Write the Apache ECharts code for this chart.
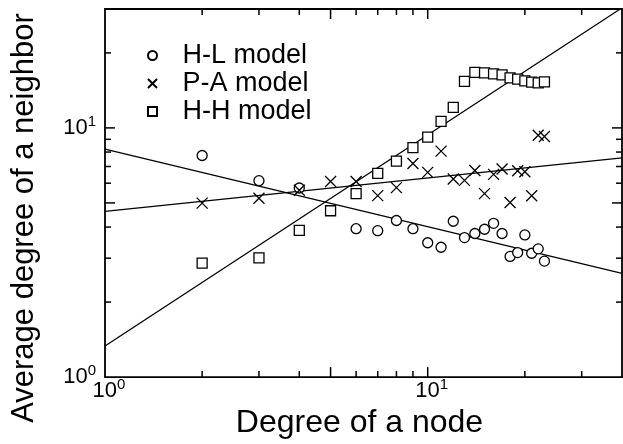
<!DOCTYPE html>
<html>
<head>
<meta charset="utf-8">
<script src="https://cdn.jsdelivr.net/npm/echarts@6/dist/echarts.min.js"></script>
<style>
html,body{margin:0;padding:0;background:#fff;}
#chart{width:623px;height:444px;}
</style>
</head>
<body>
<div id="chart"></div>
<script>
// ---- data ----
const seriesNames = ['H-L model', 'P-A model', 'H-H model'];

const hlX = [2, 3, 4, 6, 7, 8, 9, 10, 11, 12, 13, 14, 15, 16, 17, 18, 19, 20, 21, 22, 23];
const hlY = [7.75, 6.14, 5.74, 3.94, 3.87, 4.25, 3.94, 3.46, 3.32, 4.22, 3.63, 3.77, 3.92, 4.14, 3.77, 3.05, 3.16, 3.72, 3.14, 3.27, 2.92];

const paX = [2, 3, 4, 5, 6, 7, 8, 9, 10, 11, 12, 13, 14, 15, 16, 17, 18, 19, 20, 21, 22, 23];
const paY = [4.99, 5.22, 5.62, 6.09, 6.09, 5.35, 5.76, 7.20, 6.63, 8.07, 6.24, 6.16, 6.75, 5.45, 6.51, 6.84, 5.02, 6.73, 6.67, 5.34, 9.35, 9.23];

const hhX = [2, 3, 4, 5, 6, 7, 8, 9, 10, 11, 12, 13, 14, 15, 16, 17, 18, 19, 20, 21, 22, 23];
const hhY = [2.865, 3.01, 3.88, 4.65, 5.45, 6.57, 7.36, 8.34, 9.18, 10.63, 12.09, 15.36, 16.69, 16.63, 16.48, 16.32, 15.88, 15.69, 15.45, 15.26, 15.17, 15.31];

// fitted straight lines (end points)
const hlFitX = [1, 40];
const hlFitY = [8.22, 2.61];
const paFitX = [1, 40];
const paFitY = [4.62, 7.58];
const hhFitX = [1, 39.5];
const hhFitY = [1.332, 30];

// axes
const xRange = [1, 40];
const yRange = [1, 30];
const xTickValues = [2, 3, 4, 5, 6, 7, 8, 9, 10, 20, 30];
const yTickValues = [2, 3, 4, 5, 6, 7, 8, 9, 10, 20];
const longTickValues = [5, 10];
const xTitle = 'Degree of a node';
const yTitle = 'Average degree of a neighbor';

// ---- chart ----
const FONT = 'Liberation Sans, Arial, Helvetica, sans-serif';
const zip = (xs, ys) => xs.map((x, i) => [x, ys[i]]);

function powLabel(value) {
  const l = Math.log10(value);
  const e = Math.round(l);
  if (Math.abs(l - e) > 1e-6) return '';
  return '{b|10}{s|' + e + '}';
}
const labelRich = {
  b: { fontSize: 22, fontFamily: FONT, color: '#000', lineHeight: 22, padding: [6, 0, 0, 0] },
  s: { fontSize: 15, fontFamily: FONT, color: '#000', lineHeight: 15, verticalAlign: 'top' }
};

const markStyle = { color: '#fff', borderColor: '#000', borderWidth: 1.3, opacity: 1 };
const crossPath = 'path://M0,0L10,10M10,0L0,10';
const squarePath = 'path://M0,0L10,0L10,10L0,10Z';

const chart = echarts.init(document.getElementById('chart'), null, { renderer: 'canvas' });
chart.setOption({
  backgroundColor: '#fff',
  animation: false,
  textStyle: { fontFamily: FONT },
  grid: {
    left: 105, right: 1, top: 9, bottom: 65.5,
    show: true, borderColor: '#000', borderWidth: 1.8
  },
  legend: {
    data: seriesNames,
    orient: 'vertical',
    left: 147, top: 42, padding: 0,
    itemWidth: 50, itemHeight: 9, itemGap: 1,
    symbolKeepAspect: true,
    textStyle: { fontSize: 27, fontFamily: FONT, color: '#000' },
    selectedMode: false
  },
  xAxis: {
    type: 'log', logBase: 10, min: xRange[0], max: xRange[1],
    axisLine: { show: false }, axisTick: { show: false }, splitLine: { show: false },
    axisLabel: { formatter: powLabel, rich: labelRich, margin: 0, padding: [0, 0, 0, 8], showMaxLabel: false },
    name: xTitle, nameLocation: 'middle', nameGap: 27,
    nameTextStyle: { fontSize: 32, fontFamily: FONT, color: '#000', padding: [0, 8, 0, 0] }
  },
  yAxis: {
    type: 'log', logBase: 10, min: yRange[0], max: yRange[1],
    axisLine: { show: false }, axisTick: { show: false }, splitLine: { show: false },
    axisLabel: { formatter: powLabel, rich: labelRich, margin: 9, padding: [0, 0, 6, 0], showMaxLabel: false },
    name: yTitle, nameLocation: 'middle', nameGap: 65,
    nameTextStyle: { fontSize: 31, fontFamily: FONT, color: '#000', padding: [0, 50, 0, 0] }
  },
  series: [
    { type: 'line', data: zip(hlFitX, hlFitY), showSymbol: false, silent: true, clip: false,
      lineStyle: { color: '#000', width: 1.3 }, z: 2 },
    { type: 'line', data: zip(paFitX, paFitY), showSymbol: false, silent: true, clip: false,
      lineStyle: { color: '#000', width: 1.3 }, z: 2 },
    { type: 'line', data: zip(hhFitX, hhFitY), showSymbol: false, silent: true, clip: false,
      lineStyle: { color: '#000', width: 1.3 }, z: 2 },
    { name: seriesNames[0], type: 'scatter', data: zip(hlX, hlY), symbol: 'circle', symbolSize: 10,
      itemStyle: markStyle, z: 3 },
    { name: seriesNames[1], type: 'scatter', data: zip(paX, paY), symbol: crossPath, symbolSize: 11,
      itemStyle: { color: '#000', borderColor: '#000', borderWidth: 1.3, opacity: 1 }, z: 3 },
    { name: seriesNames[2], type: 'scatter', data: zip(hhX, hhY), symbol: squarePath, symbolSize: 10,
      itemStyle: markStyle, z: 3 }
  ]
});

// tick marks on all four sides, positioned through the axes' own scales,
// drawn on their own canvas layer above the plot
const rect = chart.getModel().getComponent('grid').coordinateSystem.getRect();
const tickLen = v => (longTickValues.indexOf(v) >= 0 ? 10 : 6);
const mkLine = (x1, y1, x2, y2) => ({
  type: 'line', zlevel: 1, z: 100,
  shape: { x1: x1, y1: y1, x2: x2, y2: y2 },
  style: { stroke: '#000', lineWidth: 1.5 }
});
const tickEls = [];
xTickValues.forEach(v => {
  const x = chart.convertToPixel({ xAxisIndex: 0 }, v);
  const len = tickLen(v);
  const b = rect.y + rect.height, t = rect.y;
  tickEls.push(mkLine(x, b, x, b - len));
  tickEls.push(mkLine(x, t, x, t + len));
});
yTickValues.forEach(v => {
  const y = chart.convertToPixel({ yAxisIndex: 0 }, v);
  const len = tickLen(v);
  const l = rect.x, r = rect.x + rect.width;
  tickEls.push(mkLine(l, y, l + len, y));
  tickEls.push(mkLine(r, y, r - len, y));
});
chart.setOption({ graphic: { elements: tickEls } });
</script>
</body>
</html>
